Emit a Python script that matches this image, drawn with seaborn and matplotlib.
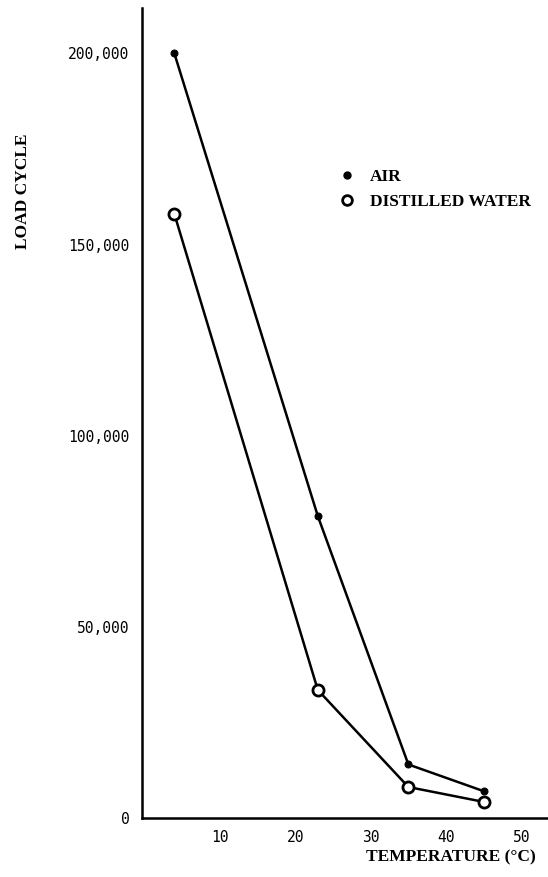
import matplotlib
matplotlib.use("Agg")
import matplotlib.pyplot as plt
from matplotlib.lines import Line2D
import seaborn as sns
import pandas as pd

# Fatigue life versus temperature in two media
temperature_c = [4, 23, 35, 45]
air_cycles = [200000, 79000, 14000, 7000]
water_cycles = [158000, 33500, 8100, 4200]
series_names = ["AIR", "DISTILLED WATER"]
x_ticks = [10, 20, 30, 40, 50]
y_ticks = [0, 50000, 100000, 150000, 200000]
y_tick_labels = ["0", "50,000", "100,000", "150,000", "200,000"]

df = pd.DataFrame({
    "temp": temperature_c * 2,
    "cycles": air_cycles + water_cycles,
    "medium": [series_names[0]] * 4 + [series_names[1]] * 4,
})

sns.set_style("white")
plt.rcParams.update({"text.color": "black", "axes.labelcolor": "black",
                     "xtick.color": "black", "ytick.color": "black"})
fig = plt.figure(figsize=(5.48, 8.77), dpi=100)
ax = fig.add_axes([0.259, 0.0673, 0.741, 0.924])

sns.lineplot(data=df[df.medium == series_names[0]], x="temp", y="cycles",
             color="black", lw=1.8, marker="o", markersize=5,
             markerfacecolor="black", markeredgecolor="black",
             legend=False, ax=ax, zorder=3)
sns.lineplot(data=df[df.medium == series_names[1]], x="temp", y="cycles",
             color="black", lw=1.8, marker="o", markersize=8,
             markerfacecolor="white", markeredgecolor="black",
             markeredgewidth=2, legend=False, ax=ax, zorder=3)

ax.set_xlim(-0.3, 53.5)
ax.set_ylim(0, 212000)
for side in ("top", "right"):
    ax.spines[side].set_visible(False)
for side in ("left", "bottom"):
    ax.spines[side].set_linewidth(1.8)
    ax.spines[side].set_color("black")

mono = {"family": "DejaVu Sans Mono", "size": 10.5, "color": "black"}
ax.set_xticks(x_ticks)
ax.set_xticklabels([str(t) for t in x_ticks], fontdict=mono)
ax.set_yticks(y_ticks)
ax.set_yticklabels(y_tick_labels, fontdict=mono)
ax.tick_params(axis="both", direction="in", length=5, width=1.8,
               colors="black")
ax.tick_params(axis="y", pad=9)
ax.tick_params(axis="x", pad=9)

label_font = {"family": "Liberation Serif", "weight": "bold", "size": 12.5,
              "color": "black"}
ax.set_xlabel("")
ax.set_ylabel("")
fig.text(0.977, 0.022, "TEMPERATURE (°C)", ha="right", va="center",
         fontdict=label_font)
fig.text(0.042, 0.782, "LOAD CYCLE", rotation=90, ha="center", va="center",
         fontdict=label_font)

handles = [
    Line2D([], [], ls="none", marker="o", markersize=5, color="black"),
    Line2D([], [], ls="none", marker="o", markersize=7, markerfacecolor="white",
           markeredgecolor="black", markeredgewidth=2),
]
leg = ax.legend(handles, series_names, loc="upper left",
                bbox_to_anchor=(0.445, 0.82), frameon=False, handlelength=1,
                handletextpad=0.8, labelspacing=0.5,
                prop={"family": "Liberation Serif", "weight": "bold",
                      "size": 12.5})
for t in leg.get_texts():
    t.set_color("black")

fig.savefig("out.png", dpi=100)
